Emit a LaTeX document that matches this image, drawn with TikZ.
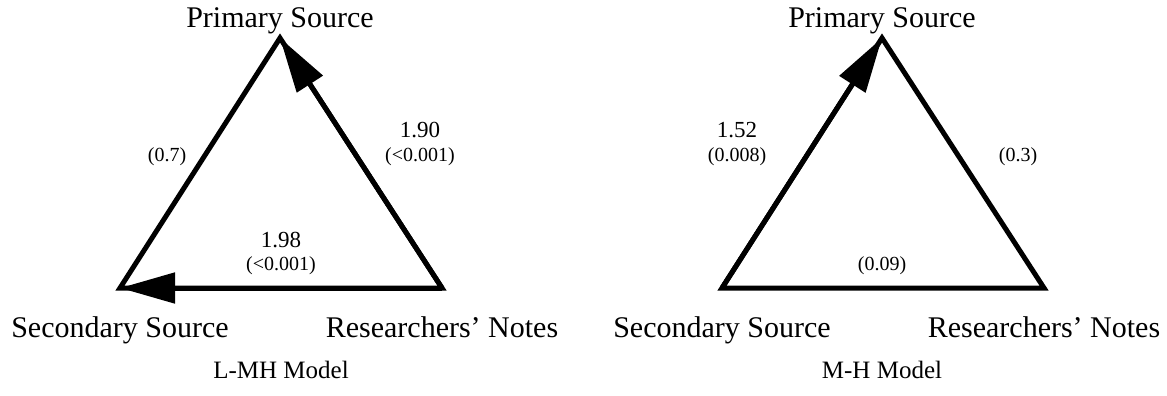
\documentclass[tikz,border=0pt]{standalone}
\usepackage{fontspec}
\setmainfont{Liberation Serif}
\usetikzlibrary{positioning, arrows.meta}

\begin{document}
\begin{tikzpicture}[
  x=0.5pt, y=-0.5pt,
  >={Triangle[length=27.5pt, width=15pt]},
  edge/.style={line width=2.5pt, line join=miter},
  arr/.style={->, line width=2.5pt},
  vlab/.style={font=\fontsize{15}{18}\selectfont, inner sep=0pt},
  coef/.style={font=\fontsize{11.5}{13}\selectfont, inner sep=0pt},
  pval/.style={font=\fontsize{10}{12}\selectfont, inner sep=0pt},
  modelcap/.style={font=\fontsize{12.5}{15}\selectfont, inner sep=0pt}
]
  \useasboundingbox (0,0) rectangle (1167,396);

  % L-MH model
  \coordinate (lp) at (280,38);
  \coordinate (ls) at (120,288);
  \coordinate (lr) at (442,288);

  \node[vlab, above=2pt of lp] (lpt) {Primary Source};
  \node[vlab, below=14pt of ls] (lst) {Secondary Source};
  \node[vlab, below=14pt of lr] (lrt) {Researchers' Notes};
  \node[modelcap] (lcap) at (281,370) {L-MH Model};

  \draw[edge] (lp) -- (ls) -- (lr) -- cycle;
  \draw[arr] (lr) -- (lp);
  \draw[arr] (lr) -- (ls);

  \node[pval] (lps) at (167,157) {(0.7)};
  \node[coef] (lprc) at (420,130) {1.90};
  \node[pval] (lprp) at (420,157) {(<0.001)};
  \node[coef] (lsrc) at (281,240) {1.98};
  \node[pval] (lsrp) at (281,266) {(<0.001)};

  % M-H model
  \coordinate (rp) at (882,38);
  \coordinate (rs) at (722,288);
  \coordinate (rr) at (1044,288);

  \node[vlab, above=2pt of rp] (rpt) {Primary Source};
  \node[vlab, below=14pt of rs] (rst) {Secondary Source};
  \node[vlab, below=14pt of rr] (rrt) {Researchers' Notes};
  \node[modelcap] (rcap) at (882,370) {M-H Model};

  \draw[edge] (rp) -- (rs) -- (rr) -- cycle;
  \draw[arr] (rs) -- (rp);

  \node[coef] (rpsc) at (737,130) {1.52};
  \node[pval] (rpsp) at (737,157) {(0.008)};
  \node[pval] (rpr) at (1018,157) {(0.3)};
  \node[pval] (rsr) at (882,266) {(0.09)};
\end{tikzpicture}
\end{document}
